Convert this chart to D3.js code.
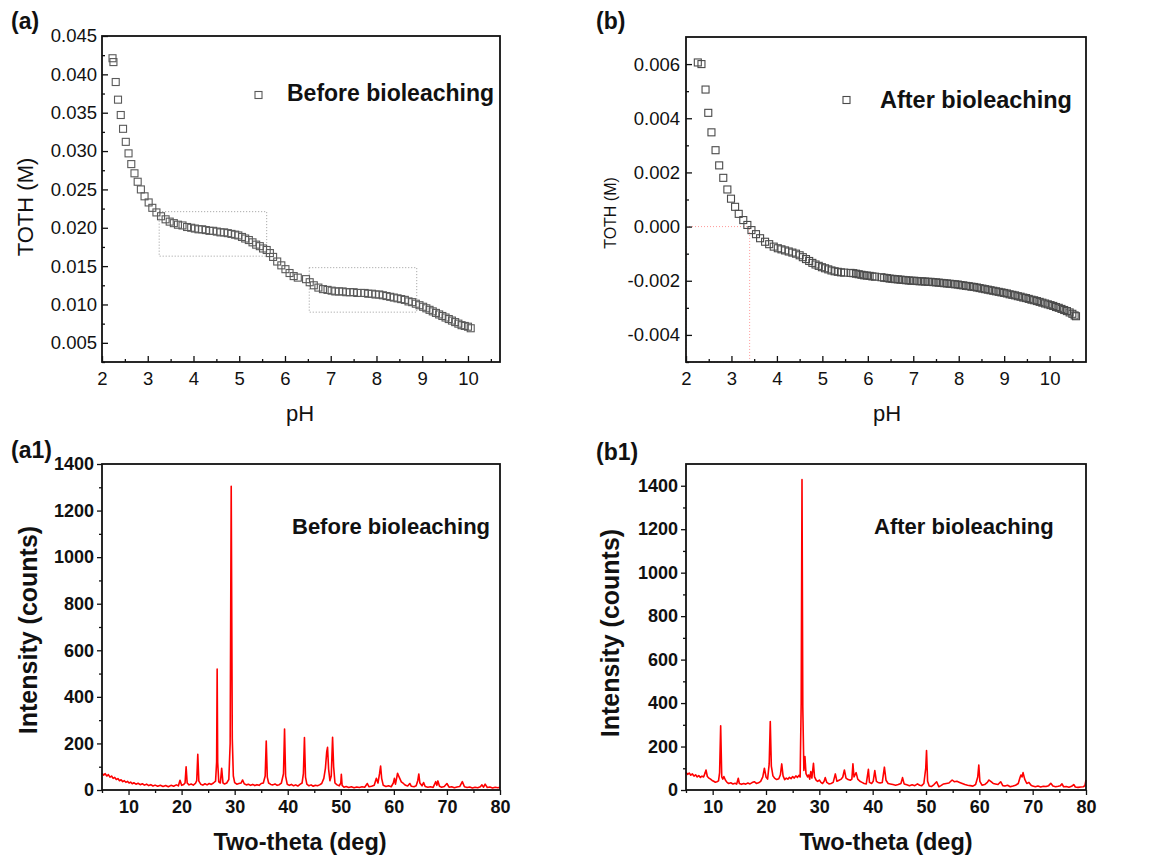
<!DOCTYPE html>
<html>
<head>
<meta charset="utf-8">
<script src="https://cdn.jsdelivr.net/npm/d3@7"></script>
<style>
  body { margin: 0; background: #fff; }
  svg { font-family: "Liberation Sans", Arial, sans-serif; }
</style>
</head>
<body>
<script>
// ---- titration data: [pH, TOTH (M)] ----
const tothBefore = [
  [2.23,0.0421],[2.25,0.0416],[2.30,0.0390],[2.35,0.0367],[2.41,0.0347],[2.46,0.0329],[2.52,0.0312],
  [2.58,0.0297],[2.64,0.0283],[2.71,0.0271],[2.78,0.0260],[2.85,0.0250],[2.93,0.0241],[3.02,0.0233],
  [3.10,0.0226],[3.19,0.0220],[3.29,0.0215],[3.39,0.0211],[3.48,0.0208],[3.57,0.0206],[3.66,0.0204],
  [3.76,0.0203],[3.86,0.0201],[3.95,0.0200],[4.03,0.0199],[4.11,0.0198],[4.19,0.0198],[4.27,0.0197],
  [4.35,0.0196],[4.43,0.0196],[4.51,0.0195],[4.59,0.0194],[4.67,0.0194],[4.75,0.0193],[4.83,0.0192],
  [4.91,0.0191],[4.98,0.0190],[5.06,0.0188],[5.13,0.0186],[5.21,0.0184],[5.29,0.0181],[5.37,0.0178],
  [5.45,0.0176],[5.52,0.0173],[5.60,0.0171],[5.67,0.0167],[5.74,0.0162],[5.83,0.0156],[5.92,0.0151],
  [6.01,0.0146],[6.10,0.0141],[6.19,0.0137],[6.28,0.0135],[6.46,0.0133],[6.54,0.0129],[6.63,0.0125],
  [6.73,0.0122],[6.83,0.0120],[6.93,0.0119],[7.02,0.0118],[7.10,0.0117],[7.18,0.0117],[7.26,0.0117],
  [7.34,0.0116],[7.42,0.0116],[7.50,0.0116],[7.58,0.0115],[7.66,0.0115],[7.74,0.0115],[7.82,0.0114],
  [7.90,0.0114],[7.98,0.0113],[8.06,0.0113],[8.14,0.0112],[8.22,0.0111],[8.30,0.0110],[8.38,0.0109],
  [8.46,0.0108],[8.54,0.0107],[8.62,0.0106],[8.70,0.0104],[8.78,0.0103],[8.86,0.0101],[8.94,0.0099],
  [9.02,0.0097],[9.09,0.0095],[9.16,0.0093],[9.23,0.0091],[9.30,0.0089],[9.37,0.0087],[9.44,0.0085],
  [9.51,0.0083],[9.58,0.0081],[9.65,0.0079],[9.72,0.0077],[9.79,0.0075],[9.86,0.0073],[9.93,0.0072],
  [10.00,0.0071],[10.06,0.0069]
];

const tothAfter = [
  [2.26,0.00606],[2.34,0.00600],[2.43,0.00506],[2.49,0.00420],[2.56,0.00348],[2.65,0.00282],[2.73,0.00226],
  [2.82,0.00180],[2.91,0.00137],[2.99,0.00103],[3.08,0.00073],[3.16,0.00047],[3.26,0.00024],[3.35,0.00006],
  [3.44,-0.00013],[3.54,-0.00028],[3.63,-0.00043],[3.74,-0.00056],[3.83,-0.00065],[3.93,-0.00074],
  [4.02,-0.00080],[4.10,-0.00084],[4.18,-0.00088],[4.26,-0.00092],[4.34,-0.00096],[4.42,-0.00100],
  [4.50,-0.00106],[4.57,-0.00113],[4.64,-0.00120],[4.71,-0.00127],[4.78,-0.00134],[4.85,-0.00140],
  [4.92,-0.00145],[4.99,-0.00150],[5.06,-0.00154],[5.13,-0.00158],[5.20,-0.00162],[5.27,-0.00165],
  [5.34,-0.00167],[5.41,-0.00169],[5.48,-0.00170],[5.62,-0.00171],[5.68,-0.00172],[5.74,-0.00174],
  [5.80,-0.00176],[5.86,-0.00178],[5.92,-0.00180],[5.98,-0.00181],[6.04,-0.00182],[6.10,-0.00184],
  [6.16,-0.00185],[6.30,-0.00187],[6.36,-0.00189],[6.42,-0.00190],[6.48,-0.00192],[6.54,-0.00193],
  [6.60,-0.00194],[6.66,-0.00195],[6.72,-0.00196],[6.78,-0.00197],[6.84,-0.00198],[6.90,-0.00199],
  [6.96,-0.00200],[7.02,-0.00200],[7.08,-0.00201],[7.14,-0.00202],[7.20,-0.00202],[7.26,-0.00203],
  [7.32,-0.00204],[7.38,-0.00204],[7.44,-0.00205],[7.50,-0.00206],[7.56,-0.00207],[7.62,-0.00208],
  [7.68,-0.00209],[7.74,-0.00210],[7.80,-0.00211],[7.86,-0.00212],[7.92,-0.00213],[7.98,-0.00214],
  [8.04,-0.00216],[8.10,-0.00217],[8.16,-0.00219],[8.22,-0.00220],[8.28,-0.00222],[8.34,-0.00223],
  [8.40,-0.00225],[8.46,-0.00227],[8.52,-0.00229],[8.58,-0.00231],[8.64,-0.00233],[8.70,-0.00235],
  [8.76,-0.00237],[8.82,-0.00239],[8.88,-0.00241],[8.94,-0.00243],[9.00,-0.00245],[9.06,-0.00247],
  [9.12,-0.00250],[9.18,-0.00252],[9.24,-0.00254],[9.30,-0.00257],[9.36,-0.00259],[9.42,-0.00262],
  [9.48,-0.00264],[9.54,-0.00267],[9.60,-0.00270],[9.66,-0.00272],[9.72,-0.00275],[9.78,-0.00278],
  [9.84,-0.00281],[9.90,-0.00284],[9.96,-0.00287],[10.02,-0.00290],[10.08,-0.00293],[10.14,-0.00297],
  [10.20,-0.00300],[10.26,-0.00304],[10.32,-0.00308],[10.38,-0.00312],[10.44,-0.00317],[10.50,-0.00322],
  [10.55,-0.00328],[10.58,-0.00331]
];

// dotted guide boxes [pH0, pH1, TOTH0, TOTH1]
const boxesBefore = [[3.25, 5.6, 0.0163, 0.0221], [6.53, 8.88, 0.0090, 0.0148]];
const boxesAfter = [[2, 3.4, -0.005, 0]];

// ---- XRD data: [two-theta (deg), intensity (counts)] ----
const xrdBefore = [
  [5.0,72],[5.3,64],[5.6,70],[5.9,60],[6.2,66],[6.5,55],[6.8,60],[7.1,50],[7.4,54],[7.7,45],[8.0,49],
  [8.3,40],[8.6,44],[8.9,36],[9.2,40],[9.5,33],[9.8,37],[10.1,30],[10.4,34],[10.7,27],[11.0,31],[11.4,25],
  [11.8,29],[12.2,23],[12.6,27],[13.0,21],[13.4,25],[13.8,19],[14.2,23],[14.6,17],[15.0,21],[15.5,16],
  [16.0,20],[16.5,15],[17.0,19],[17.5,14],[18.0,20],[18.5,16],[19.0,22],[19.4,18],[19.7,42],[20.0,20],
  [20.4,24],[20.65,30],[20.85,100],[21.05,30],[21.4,22],[21.8,26],[22.2,21],[22.6,28],[22.85,40],
  [23.05,153],[23.25,38],[23.6,25],[24.0,21],[24.4,27],[24.8,22],[25.2,28],[25.6,24],[26.0,30],[26.4,38],
  [26.6,120],[26.7,519],[26.8,120],[27.0,35],[27.3,30],[27.55,93],[27.8,30],[28.1,26],[28.5,30],[28.9,45],
  [29.15,200],[29.35,1304],[29.55,220],[29.75,60],[30.0,32],[30.4,25],[30.8,28],[31.2,30],[31.5,43],
  [31.8,27],[32.2,22],[32.6,25],[33.0,20],[33.4,24],[33.8,19],[34.2,23],[34.6,20],[35.0,28],[35.4,30],
  [35.75,60],[35.95,210],[36.15,55],[36.4,30],[36.8,24],[37.2,22],[37.6,26],[38.0,20],[38.4,23],[38.8,30],
  [39.2,70],[39.4,262],[39.6,60],[39.9,25],[40.3,20],[40.7,24],[41.1,18],[41.5,22],[41.9,17],[42.3,24],
  [42.7,30],[42.95,70],[43.15,225],[43.35,55],[43.6,25],[44.0,18],[44.4,22],[44.8,16],[45.2,20],[45.6,18],
  [46.0,22],[46.4,28],[46.8,50],[47.1,93],[47.35,165],[47.5,183],[47.7,90],[47.95,40],[48.2,60],
  [48.45,226],[48.65,100],[48.9,30],[49.3,22],[49.7,18],[50.0,30],[50.1,67],[50.25,20],[50.6,12],
  [51.0,15],[51.5,11],[52.0,14],[52.5,10],[53.0,13],[53.5,11],[54.0,14],[54.5,12],[55.0,28],[55.3,14],
  [55.8,16],[56.3,20],[56.7,50],[57.0,30],[57.3,70],[57.5,103],[57.7,50],[58.0,20],[58.5,15],[59.0,18],
  [59.5,14],[59.9,30],[60.1,50],[60.3,25],[60.7,72],[61.0,55],[61.4,35],[61.8,28],[62.2,20],[62.6,17],
  [63.0,28],[63.3,16],[63.8,14],[64.2,18],[64.5,40],[64.7,69],[64.9,30],[65.3,18],[65.6,32],[65.9,15],
  [66.4,12],[66.9,14],[67.4,11],[67.9,36],[68.1,20],[68.3,39],[68.6,16],[69.0,12],[69.5,15],[70.0,28],
  [70.4,12],[70.9,14],[71.4,10],[71.9,13],[72.4,15],[72.9,36],[73.3,14],[73.8,11],[74.3,13],[74.8,9],
  [75.3,12],[75.8,10],[76.3,14],[76.6,22],[76.9,12],[77.2,25],[77.6,11],[78.1,13],[78.6,9],[79.1,12],
  [79.6,10],[80.0,12]
];

const xrdAfter = [
  [5.0,82],[5.3,72],[5.6,78],[5.9,68],[6.2,74],[6.5,64],[6.8,70],[7.1,60],[7.4,66],[7.7,58],[8.0,64],
  [8.3,60],[8.6,80],[8.75,92],[9.0,62],[9.3,55],[9.6,50],[9.9,44],[10.2,40],[10.5,36],[10.8,38],[11.1,42],
  [11.3,80],[11.5,295],[11.7,60],[11.9,50],[12.1,62],[12.4,45],[12.7,35],[13.0,30],[13.4,33],[13.8,28],
  [14.2,31],[14.5,27],[14.8,54],[15.0,30],[15.4,26],[15.8,30],[16.2,27],[16.6,32],[17.0,28],[17.4,34],
  [17.8,38],[18.2,30],[18.6,33],[19.0,40],[19.4,60],[19.7,100],[20.0,60],[20.3,50],[20.6,120],[20.8,315],
  [21.0,110],[21.3,65],[21.6,55],[22.0,48],[22.4,52],[22.7,70],[22.95,120],[23.2,65],[23.5,48],[23.8,55],
  [24.1,50],[24.4,58],[24.7,52],[25.0,62],[25.3,55],[25.6,65],[25.9,58],[26.2,68],[26.4,60],[26.6,400],
  [26.75,1428],[26.9,380],[27.1,90],[27.3,154],[27.5,75],[27.8,60],[28.0,69],[28.2,50],[28.4,85],[28.6,55],
  [28.9,123],[29.1,60],[29.4,45],[29.7,40],[30.0,46],[30.3,35],[30.6,30],[30.9,40],[31.1,57],[31.4,35],
  [31.8,28],[32.2,30],[32.6,35],[33.0,74],[33.3,40],[33.7,45],[34.1,50],[34.4,60],[34.7,92],[35.0,55],
  [35.4,48],[35.8,45],[36.1,50],[36.3,120],[36.5,60],[36.9,80],[37.2,50],[37.6,40],[38.0,35],[38.4,30],
  [38.8,28],[39.2,95],[39.4,35],[39.8,30],[40.1,40],[40.4,89],[40.7,40],[41.0,35],[41.4,32],[41.8,35],
  [42.2,105],[42.5,45],[42.9,30],[43.3,28],[43.8,25],[44.3,22],[44.8,25],[45.3,30],[45.6,57],[45.9,28],
  [46.4,24],[46.9,20],[47.4,24],[47.9,20],[48.4,28],[48.8,22],[49.2,20],[49.6,30],[49.95,100],[50.1,182],
  [50.3,40],[50.6,18],[51.0,16],[51.5,25],[52.0,38],[52.4,15],[52.8,20],[53.3,28],[53.8,30],[54.3,32],
  [54.9,46],[55.3,38],[55.8,40],[56.3,35],[56.8,30],[57.3,25],[57.8,22],[58.3,20],[58.8,18],[59.3,25],
  [59.7,60],[59.9,115],[60.1,40],[60.5,22],[61.0,25],[61.5,35],[61.8,46],[62.2,38],[62.6,30],[63.0,28],
  [63.5,25],[64.0,38],[64.4,20],[64.8,18],[65.3,22],[65.8,15],[66.3,18],[66.8,22],[67.3,30],[67.6,55],
  [67.8,69],[68.0,60],[68.2,80],[68.5,50],[68.9,30],[69.3,35],[69.7,22],[70.0,18],[70.5,15],[71.0,18],
  [71.5,14],[72.0,17],[72.5,16],[73.0,20],[73.4,31],[73.8,18],[74.3,15],[74.8,17],[75.2,20],[75.5,28],
  [75.8,15],[76.3,16],[76.8,13],[77.3,17],[77.7,25],[78.0,14],[78.5,12],[79.0,14],[79.5,15],[79.8,20],
  [80.0,46]
];

// ---- tick values ----
const phTicks = [2, 3, 4, 5, 6, 7, 8, 9, 10];
const phMinor = [2.5, 3.5, 4.5, 5.5, 6.5, 7.5, 8.5, 9.5, 10.5];
const tothBeforeTicks = [0.005, 0.010, 0.015, 0.020, 0.025, 0.030, 0.035, 0.040, 0.045];
const tothBeforeMinor = [0.0025, 0.0075, 0.0125, 0.0175, 0.0225, 0.0275, 0.0325, 0.0375, 0.0425];
const tothAfterTicks = [-0.004, -0.002, 0.000, 0.002, 0.004, 0.006];
const tothAfterMinor = [-0.005, -0.003, -0.001, 0.001, 0.003, 0.005];
const thetaTicks = [10, 20, 30, 40, 50, 60, 70, 80];
const thetaMinor = [5, 15, 25, 35, 45, 55, 65, 75];
const countTicks = [0, 200, 400, 600, 800, 1000, 1200, 1400];
const countMinor = [100, 300, 500, 700, 900, 1100, 1300];

const svg = d3.select("body").append("svg")
  .attr("width", 1151)
  .attr("height", 860);

function drawAxes(x, y, cfg) {
  const [left, right] = x.range();
  const [bottom, top] = y.range();
  const g = svg.append("g");
  const maj = cfg.inward ? -6 : 5;
  const min = cfg.inward ? -3 : 3;

  g.append("g").attr("transform", "translate(0," + bottom + ")")
    .call(d3.axisBottom(x).tickValues(cfg.xTicks).tickSizeInner(maj).tickSizeOuter(0)
      .tickPadding(cfg.xPad).tickFormat(cfg.xFormat));
  g.append("g").attr("transform", "translate(0," + bottom + ")")
    .call(d3.axisBottom(x).tickValues(cfg.xMinor).tickSizeInner(min).tickSizeOuter(0).tickFormat(""));
  g.append("g").attr("transform", "translate(" + left + ",0)")
    .call(d3.axisLeft(y).tickValues(cfg.yTicks).tickSizeInner(maj).tickSizeOuter(0)
      .tickPadding(cfg.yPad).tickFormat(cfg.yFormat));
  g.append("g").attr("transform", "translate(" + left + ",0)")
    .call(d3.axisLeft(y).tickValues(cfg.yMinor).tickSizeInner(min).tickSizeOuter(0).tickFormat(""));

  g.selectAll(".domain").remove();
  g.selectAll(".tick line").attr("stroke", "#111").attr("stroke-width", 1.3);
  g.selectAll(".tick text")
    .attr("fill", "#111")
    .style("font-family", '"Liberation Sans", Arial, sans-serif')
    .style("font-size", cfg.tickSize + "px")
    .style("font-weight", cfg.bold ? "bold" : "normal");

  g.append("rect")
    .attr("x", left).attr("y", top)
    .attr("width", right - left).attr("height", bottom - top)
    .attr("fill", "none").attr("stroke", "#111").attr("stroke-width", 1.8);
}

function addText(x, y, str, size, bold, opts) {
  opts = opts || {};
  const t = svg.append("text")
    .attr("x", x).attr("y", y)
    .attr("text-anchor", opts.anchor || "start")
    .style("font-size", size + "px")
    .style("font-weight", bold ? "bold" : "normal")
    .attr("fill", "#111")
    .text(str);
  if (opts.rotate) t.attr("transform", "rotate(-90," + x + "," + y + ")");
  return t;
}

function drawSquares(data, x, y, color) {
  svg.append("g").selectAll("rect")
    .data(data)
    .join("rect")
    .attr("x", d => x(d[0]) - 3.5)
    .attr("y", d => y(d[1]) - 3.5)
    .attr("width", 7)
    .attr("height", 7)
    .attr("fill", "none")
    .attr("stroke", color)
    .attr("stroke-width", 1.1);
}

function drawBoxes(boxes, x, y, color) {
  svg.append("g").selectAll("rect")
    .data(boxes)
    .join("rect")
    .attr("x", d => x(d[0]))
    .attr("y", d => y(d[3]))
    .attr("width", d => x(d[1]) - x(d[0]))
    .attr("height", d => y(d[2]) - y(d[3]))
    .attr("fill", "none")
    .attr("stroke", color)
    .attr("stroke-width", 1)
    .attr("stroke-dasharray", "1,2");
}

// plain hyphen for negatives, as in the original figure
const fmt3 = d => d.toFixed(3);

// ---------- (a) before bioleaching titration ----------
const xa = d3.scaleLinear().domain([2, 10.7]).range([102, 500]);
const ya = d3.scaleLinear().domain([0.0025, 0.045]).range([362, 36]);
drawBoxes(boxesBefore, xa, ya, "#9a9a9a");
drawSquares(tothBefore, xa, ya, "#5a5a5a");
drawAxes(xa, ya, {
  inward: true, xTicks: phTicks, xMinor: phMinor, yTicks: tothBeforeTicks, yMinor: tothBeforeMinor,
  xPad: 10, yPad: 5, xFormat: d3.format("d"), yFormat: fmt3, tickSize: 18.5, bold: false
});
svg.append("rect").attr("x", 255).attr("y", 91.5).attr("width", 7).attr("height", 7)
  .attr("fill", "none").attr("stroke", "#5a5a5a").attr("stroke-width", 1.1);
addText(287, 101, "Before bioleaching", 23, true);
addText(33, 207, "TOTH (M)", 22, false, { anchor: "middle", rotate: true });
addText(300, 421, "pH", 22, false, { anchor: "middle" });
addText(11, 29, "(a)", 23, true);

// ---------- (b) after bioleaching titration ----------
const xb = d3.scaleLinear().domain([2, 10.8]).range([686, 1086]);
const yb = d3.scaleLinear().domain([-0.005, 0.007]).range([362, 37]);
drawBoxes(boxesAfter, xb, yb, "#ff9a9a");
drawSquares(tothAfter, xb, yb, "#4a4a4a");
drawAxes(xb, yb, {
  inward: true, xTicks: phTicks, xMinor: phMinor, yTicks: tothAfterTicks, yMinor: tothAfterMinor,
  xPad: 10, yPad: 6, xFormat: d3.format("d"), yFormat: fmt3, tickSize: 18.5, bold: false
});
svg.append("rect").attr("x", 843).attr("y", 96.5).attr("width", 7).attr("height", 7)
  .attr("fill", "none").attr("stroke", "#4a4a4a").attr("stroke-width", 1.1);
addText(880, 108, "After bioleaching", 23.5, true);
addText(616, 213, "TOTH (M)", 16, false, { anchor: "middle", rotate: true });
addText(887, 421, "pH", 22, false, { anchor: "middle" });
addText(596, 29, "(b)", 23, true);

// ---------- (a1) XRD before ----------
const line = (x, y) => d3.line().x(d => x(d[0])).y(d => y(d[1]));

const xc = d3.scaleLinear().domain([5, 80]).range([102, 500]);
const yc = d3.scaleLinear().domain([0, 1400]).range([790, 464]);
svg.append("path").datum(xrdBefore)
  .attr("d", line(xc, yc))
  .attr("fill", "none").attr("stroke", "#ff0000").attr("stroke-width", 1.6)
  .attr("stroke-linejoin", "round");
drawAxes(xc, yc, {
  inward: false, xTicks: thetaTicks, xMinor: thetaMinor, yTicks: countTicks, yMinor: countMinor,
  xPad: 5, yPad: 3, xFormat: d3.format("d"), yFormat: d3.format("d"), tickSize: 18, bold: true
});
addText(292, 534, "Before bioleaching", 22, true);
addText(37, 630, "Intensity (counts)", 25, true, { anchor: "middle", rotate: true });
addText(300, 850, "Two-theta (deg)", 23.5, true, { anchor: "middle" });
addText(11, 458, "(a1)", 23, true);

// ---------- (b1) XRD after ----------
const xd = d3.scaleLinear().domain([5, 80]).range([686, 1086]);
const yd = d3.scaleLinear().domain([0, 1500]).range([790, 464]);
svg.append("path").datum(xrdAfter)
  .attr("d", line(xd, yd))
  .attr("fill", "none").attr("stroke", "#ff0000").attr("stroke-width", 1.6)
  .attr("stroke-linejoin", "round");
drawAxes(xd, yd, {
  inward: false, xTicks: thetaTicks, xMinor: thetaMinor, yTicks: countTicks, yMinor: countMinor,
  xPad: 5, yPad: 3, xFormat: d3.format("d"), yFormat: d3.format("d"), tickSize: 18, bold: true
});
addText(874, 534, "After bioleaching", 22, true);
addText(619, 633, "Intensity (counts)", 25, true, { anchor: "middle", rotate: true });
addText(886, 850, "Two-theta (deg)", 23.5, true, { anchor: "middle" });
addText(596, 460, "(b1)", 23, true);
</script>
</body>
</html>
